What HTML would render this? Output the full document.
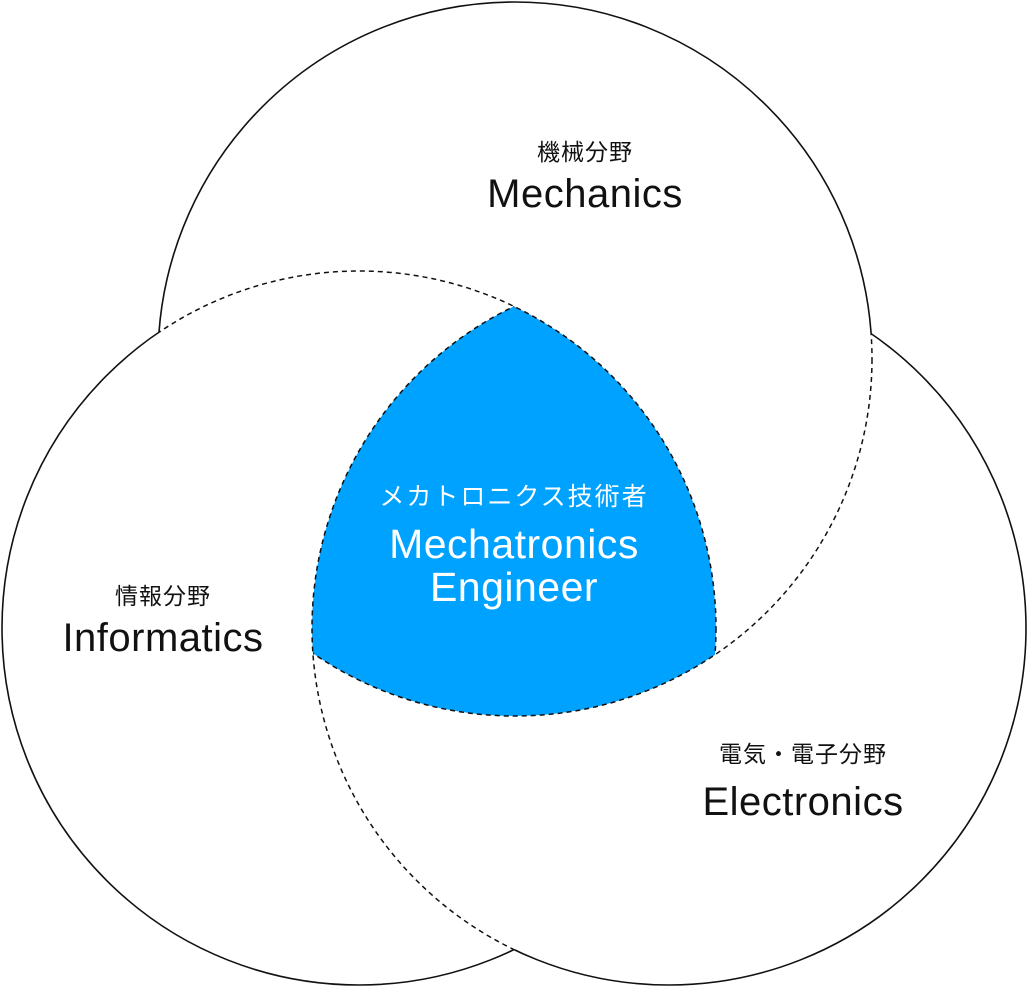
<!DOCTYPE html>
<html><head><meta charset="utf-8"><style>
html,body{margin:0;padding:0;background:#fff;}
svg{display:block;}
text{font-family:"Liberation Sans","Noto Sans CJK JP",sans-serif;text-anchor:middle;}
</style></head><body>
<svg width="1028" height="988" viewBox="0 0 1028 988" xmlns="http://www.w3.org/2000/svg">
<defs>
<clipPath id="cA"><circle cx="515" cy="359" r="357"/></clipPath>
<clipPath id="cB"><circle cx="359" cy="628" r="357"/></clipPath>
<clipPath id="cC"><circle cx="669" cy="628" r="357"/></clipPath>
<mask id="mA"><rect width="1028" height="988" fill="#fff"/><circle cx="359" cy="628" r="357" fill="#000"/><circle cx="669" cy="628" r="357" fill="#000"/></mask>
<mask id="mB"><rect width="1028" height="988" fill="#fff"/><circle cx="515" cy="359" r="357" fill="#000"/><circle cx="669" cy="628" r="357" fill="#000"/></mask>
<mask id="mC"><rect width="1028" height="988" fill="#fff"/><circle cx="515" cy="359" r="357" fill="#000"/><circle cx="359" cy="628" r="357" fill="#000"/></mask>
</defs>
<g clip-path="url(#cB)"><g clip-path="url(#cC)"><circle cx="515" cy="359" r="357" fill="#00a2ff"/></g></g>
<g fill="none" stroke="#111" stroke-width="1.5" stroke-dasharray="5 4">
<g clip-path="url(#cA)"><circle cx="359" cy="628" r="357"/></g>
<g clip-path="url(#cC)"><circle cx="515" cy="359" r="357"/></g>
<g clip-path="url(#cB)"><circle cx="669" cy="628" r="357"/></g>
</g>
<g fill="none" stroke="#111" stroke-width="1.6">
<circle cx="515" cy="359" r="357" mask="url(#mA)"/>
<circle cx="359" cy="628" r="357" mask="url(#mB)"/>
<circle cx="669" cy="628" r="357" mask="url(#mC)"/>
</g>
<g fill="#111">
<text x="585" y="160" font-size="23" letter-spacing="1">機械分野</text>
<text x="585" y="207" font-size="40" letter-spacing="0.5">Mechanics</text>
<text x="163" y="604" font-size="23" letter-spacing="1">情報分野</text>
<text x="163" y="651" font-size="40" letter-spacing="0.5">Informatics</text>
<text x="803" y="762" font-size="23" letter-spacing="1">電気・電子分野</text>
<text x="803" y="815" font-size="40" letter-spacing="0.5">Electronics</text>
</g>
<g fill="#fff">
<text x="514" y="505" font-size="25" letter-spacing="2">メカトロニクス技術者</text>
<text x="514" y="558" font-size="41" letter-spacing="0.5">Mechatronics</text>
<text x="514" y="601" font-size="41" letter-spacing="0.5">Engineer</text>
</g>
</svg>
</body></html>
